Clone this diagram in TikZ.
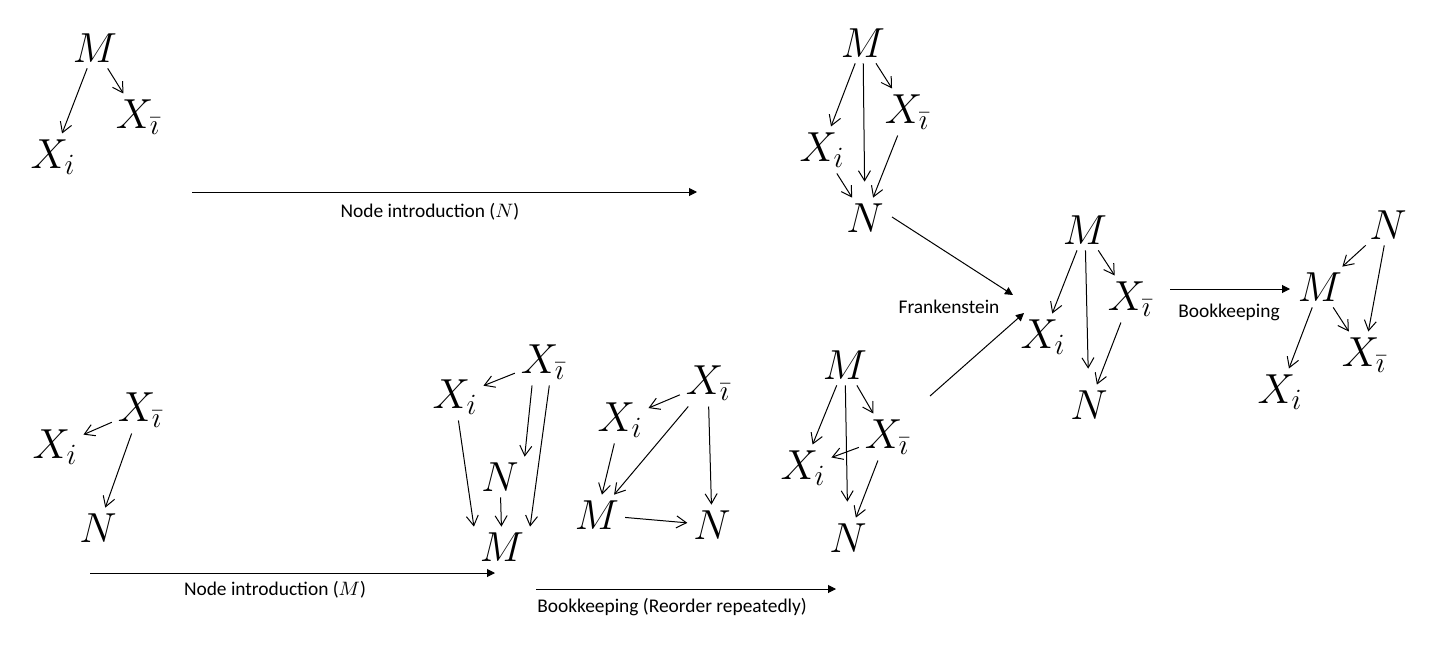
\RequirePackage{fix-cm}
\documentclass[tikz,border=0pt]{standalone}
\usepackage{fontspec}
\newfontfamily\lblfont{Carlito}
\usetikzlibrary{arrows.meta,positioning}

\begin{document}
\begin{tikzpicture}[x=0.5pt,y=-0.5pt,
    var/.style={font=\fontsize{21}{25}\selectfont, inner sep=1pt, outer sep=2pt},
    ed/.style={-{Straight Barb[length=5pt,width=6pt]}, line width=0.5pt},
    proc/.style={-{Triangle[length=4pt,width=4pt]}, line width=0.5pt},
    lbl/.style={font=\lblfont\fontsize{9.7}{11}\selectfont, inner sep=0pt}]
    \useasboundingbox (0,0) rectangle (1440,647);

    \node[var] (aM) at (95,48) {$M$};
    \node[var] (aXi) at (53,157) {$X_i$};
    \node[var] (aXb) at (138,117) {$X_{\bar\imath}$};

    \node[var] (bM) at (863,43) {$M$};
    \node[var] (bXi) at (822,150) {$X_i$};
    \node[var] (bXb) at (907,112) {$X_{\bar\imath}$};
    \node[var] (bN) at (865,218) {$N$};

    \node[var] (cM) at (1085,230) {$M$};
    \node[var] (cXi) at (1043,337) {$X_i$};
    \node[var] (cXb) at (1130,299) {$X_{\bar\imath}$};
    \node[var] (cN) at (1089,405) {$N$};

    \node[var] (eN) at (1388,225) {$N$};
    \node[var] (eM) at (1320,287) {$M$};
    \node[var] (eXb) at (1364,355) {$X_{\bar\imath}$};
    \node[var] (eXi) at (1280,392) {$X_i$};

    \node[var] (fXb) at (140,410) {$X_{\bar\imath}$};
    \node[var] (fXi) at (55,447) {$X_i$};
    \node[var] (fN) at (98,528) {$N$};

    \node[var] (gXb) at (543,362) {$X_{\bar\imath}$};
    \node[var] (gXi) at (455,397) {$X_i$};
    \node[var] (gN) at (500,477) {$N$};
    \node[var] (gM) at (502,547) {$M$};

    \node[var] (hXb) at (708,383) {$X_{\bar\imath}$};
    \node[var] (hXi) at (620,420) {$X_i$};
    \node[var] (hM) at (597,515) {$M$};
    \node[var] (hN) at (712,525) {$N$};

    \node[var] (dM) at (845,365) {$M$};
    \node[var] (dXb) at (887,437) {$X_{\bar\imath}$};
    \node[var] (dXi) at (803,468) {$X_i$};
    \node[var] (dN) at (848,538) {$N$};

    \foreach \a/\b in {aM/aXi, aM/aXb, bM/bXi, bM/bXb, bXb/bN, bXi/bN,
        cM/cXi, cM/cXb, cXb/cN, eN/eM, eN/eXb, eM/eXb, eM/eXi,
        fXb/fXi, fXb/fN, gXb/gXi, gN/gM,
        hXb/hXi, hXb/hM, hXb/hN, hXi/hM, hM/hN,
        dM/dXi, dM/dXb, dXb/dXi, dXb/dN}
    \draw[ed] (\a) -- (\b);
    \draw[ed] (gXb.-115) -- (gN.north east);
    \draw[ed] (gXb.-75) -- (gM.north east);
    \draw[ed] (gXi) -- (gM.north west);
    \draw[ed, shorten >=8pt] (bM) -- (bN);
    \draw[ed, shorten >=8pt] (cM) -- (cN);
    \draw[ed, shorten >=8pt] (dM) -- (dN);

    \coordinate (n1s) at (192,192);
    \coordinate (n1e) at (697,192);
    \coordinate (n2s) at (90,573);
    \coordinate (n2e) at (495,573);
    \coordinate (r1s) at (536,589);
    \coordinate (r1e) at (836,589);
    \coordinate (f1s) at (892,217);
    \coordinate (f1e) at (1013,295);
    \coordinate (f2s) at (930,396);
    \coordinate (f2e) at (1024,313);
    \coordinate (k1s) at (1170,289);
    \coordinate (k1e) at (1290,289);
    \foreach \a/\b in {n1s/n1e, n2s/n2e, r1s/r1e, f1s/f1e, f2s/f2e, k1s/k1e}
    \draw[proc] (\a) -- (\b);

    \node[lbl] (l1) at (430,212) {Node introduction ($N$)};
    \node[lbl] (l2) at (949,307) {Frankenstein};
    \node[lbl] (l3) at (1229,312) {Bookkeeping};
    \node[lbl] (l4) at (275,590) {Node introduction ($M$)};
    \node[lbl] (l5) at (672,607) {Bookkeeping (Reorder repeatedly)};
\end{tikzpicture}
\end{document}
